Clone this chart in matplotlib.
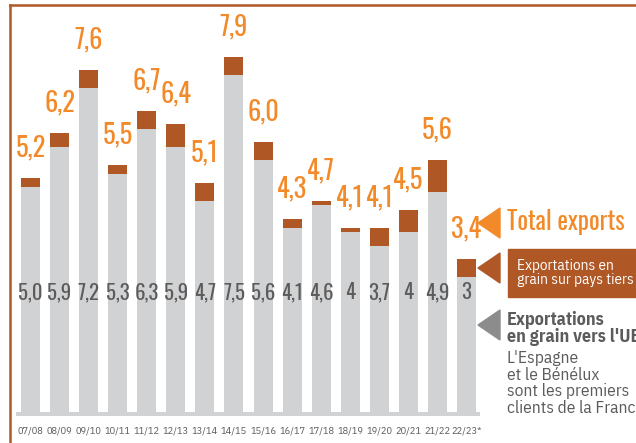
import numpy as np
import matplotlib
matplotlib.use("Agg")
import matplotlib.pyplot as plt
from matplotlib.patches import Polygon, Rectangle
from matplotlib.lines import Line2D

seasons = ["07/08", "08/09", "09/10", "10/11", "11/12", "12/13", "13/14", "14/15",
           "15/16", "16/17", "17/18", "18/19", "19/20", "20/21", "21/22", "22/23*"]
total = [5.2, 6.2, 7.6, 5.5, 6.7, 6.4, 5.1, 7.9, 6.0, 4.3, 4.7, 4.1, 4.1, 4.5, 5.6, 3.4]
total_lbl = ["5,2", "6,2", "7,6", "5,5", "6,7", "6,4", "5,1", "7,9", "6,0", "4,3", "4,7",
             "4,1", "4,1", "4,5", "5,6", "3,4"]
eu = [5.0, 5.9, 7.2, 5.3, 6.3, 5.9, 4.7, 7.5, 5.6, 4.1, 4.6, 4.0, 3.7, 4.0, 4.9, 3.0]
eu_lbl = ["5,0", "5,9", "7,2", "5,3", "6,3", "5,9", "4,7", "7,5", "5,6", "4,1", "4,6",
          "4", "3,7", "4", "4,9", "3"]

GREY = "#d1d2d4"
BROWN = "#b05726"
ORANGE = "#f28a2a"
DARK = "#5c5c5c"
DIGITS = ["Oswald", "IBM Plex Sans Condensed", "DejaVu Sans"]
COND = ["IBM Plex Sans Condensed", "DejaVu Sans"]

W, H = 636, 443
fig = plt.figure(figsize=(W / 100, H / 100), dpi=100)
ax = fig.add_axes([0, 0, 1, 1])
ax.set_xlim(-1.049, 20.83)
ax.set_ylim(-0.689, 9.156)
ax.axis("off")

x = np.arange(len(seasons))
third = np.array(total) - np.array(eu)
ax.bar(x, eu, width=0.655, color=GREY, zorder=2)
ax.bar(x, third, bottom=eu, width=0.655, color=BROWN, zorder=2)
# baseline strip
ax.add_patch(Rectangle((-0.5, -0.09), len(x) - 0.04, 0.09, color=GREY, lw=0, zorder=2))

for i in x:
    ax.annotate(total_lbl[i], (i, total[i]), xytext=(0, 15.5), textcoords="offset points",
                ha="center", va="baseline", color=ORANGE, fontsize=19,
                fontweight="bold", family=DIGITS)
    ax.text(i, 2.67, eu_lbl[i], ha="center", va="center", color=DARK,
            fontsize=15, fontweight="light", family=DIGITS, zorder=3)
    ax.text(i, -0.42, seasons[i], ha="center", va="center", color=DARK,
            fontsize=7.5, family=COND)

def fx(px):
    return px / W

def fy(py):
    return 1 - py / H

# frame lines
fig.add_artist(Line2D([fx(10), fx(10)], [fy(5), 0], color=BROWN, lw=1.8))
fig.add_artist(Line2D([fx(10), 1], [fy(5), fy(5)], color=BROWN, lw=1.8))

# legend triangles
for yc, col in [(223, ORANGE), (268, BROWN), (325, "#8c8c8c")]:
    tri = Polygon([(fx(478), fy(yc)), (fx(500), fy(yc - 15)), (fx(500), fy(yc + 15))],
                  closed=True, color=col, transform=fig.transFigure)
    fig.add_artist(tri)

fig.text(fx(507), fy(222), "Total exports", color=ORANGE, fontsize=18,
         fontweight="light", family=DIGITS, va="center", ha="left")

fig.add_artist(Rectangle((fx(508), fy(297)), fx(140), 48 / H, color=BROWN,
                         transform=fig.transFigure))
fig.text(fx(517), fy(273), "Exportations en\ngrain sur pays tiers", color="white",
         fontsize=11, family=COND, va="center", ha="left", linespacing=0.95)

fig.text(fx(507), fy(328.5), "Exportations\nen grain vers l'UE", color=DARK,
         fontsize=13, fontweight="bold", family=COND, va="center", ha="left",
         linespacing=0.95)
fig.text(fx(507), fy(383), "L'Espagne\net le Bénélux\nsont les premiers\nclients de la France",
         color=DARK, fontsize=12.5, family=COND, va="center",
         ha="left", linespacing=1.05)

fig.savefig("out.png", dpi=100)
